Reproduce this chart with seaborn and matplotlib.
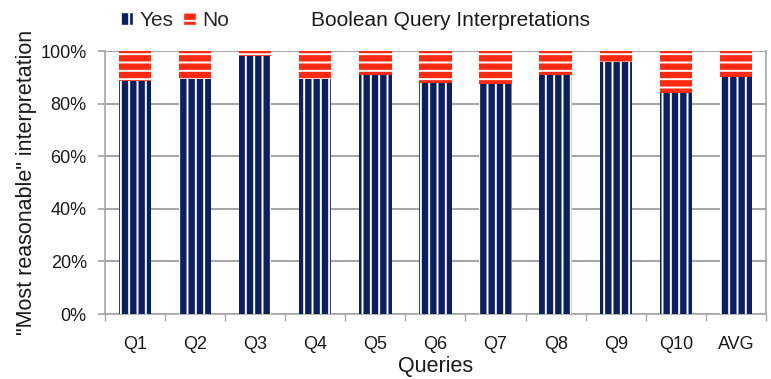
import matplotlib
matplotlib.use("Agg")
import matplotlib.pyplot as plt
import seaborn as sns
import pandas as pd
from matplotlib.patches import Patch

categories = ["Q1", "Q2", "Q3", "Q4", "Q5", "Q6", "Q7", "Q8", "Q9", "Q10", "AVG"]
yes_pct = [88.5, 89.5, 98, 89.5, 91, 88, 87.5, 91, 96, 84, 90]
no_pct = [100 - v for v in yes_pct]
yticks = [0, 20, 40, 60, 80, 100]
ytick_labels = ["0%", "20%", "40%", "60%", "80%", "100%"]

sns.set_theme(style="white")
plt.rcParams["font.family"] = ["Liberation Sans", "DejaVu Sans"]
plt.rcParams["hatch.linewidth"] = 1.4

NAVY = "#0d1f63"
RED = "#ff2a10"
GRID = "#a6a6a6"
TXT = "#1a1a1a"

df = pd.DataFrame({"cat": categories, "yes": yes_pct,
                   "total": [y + n for y, n in zip(yes_pct, no_pct)]})

fig = plt.figure(figsize=(7.71, 3.79), dpi=100)
ax = fig.add_axes([0.136, 0.1715, 0.9935 - 0.136, 0.8654 - 0.1715])

sns.barplot(data=df, x="cat", y="total", ax=ax, color=RED, width=0.54,
            edgecolor="white", hatch="--", linewidth=0, saturation=1)
sns.barplot(data=df, x="cat", y="yes", ax=ax, color=NAVY, width=0.54,
            edgecolor="white", hatch="||", linewidth=0, saturation=1)
for p in ax.patches:
    p.set_zorder(3)

ax.set_ylim(0, 100)
ax.set_xlim(-0.5, len(categories) - 0.5)
ax.set_yticks(yticks)
ax.set_yticklabels(ytick_labels)
ax.yaxis.grid(True, color=GRID, linewidth=1.5)
ax.set_axisbelow(True)

for s in ["left", "bottom", "right"]:
    ax.spines[s].set_visible(True)
    ax.spines[s].set_color(GRID)
    ax.spines[s].set_linewidth(1.2)
ax.spines["top"].set_visible(False)

ax.tick_params(axis="y", which="major", left=True, length=5, color=GRID,
               labelsize=13, pad=8)
ax.tick_params(axis="x", which="major", bottom=False, labelsize=13, pad=10)
ax.set_xticks([i + 0.5 for i in range(-1, len(categories))], minor=True)
ax.tick_params(axis="x", which="minor", bottom=True, length=5, color=GRID)
for lab in ax.get_xticklabels() + ax.get_yticklabels():
    lab.set_color(TXT)

ax.set_xlabel("Queries", fontsize=15.5, labelpad=2, color=TXT)
ax.set_ylabel("\"Most reasonable\" interpretation", fontsize=15.5,
              labelpad=2.5, color=TXT)

fig.text(0.584, 0.947, "Boolean Query Interpretations", ha="center",
         va="center", fontsize=15, color=TXT)

handles = [Patch(facecolor=NAVY, edgecolor="white", hatch="||", label="Yes"),
           Patch(facecolor=RED, edgecolor="white", hatch="--", label="No")]
fig.legend(handles=handles, loc="center left", bbox_to_anchor=(0.156, 0.947),
           ncol=2, frameon=False, fontsize=15, handlelength=0.6,
           handleheight=0.6, handletextpad=0.3, columnspacing=0.5,
           borderaxespad=0, borderpad=0)

fig.savefig("out.png", dpi=100)
